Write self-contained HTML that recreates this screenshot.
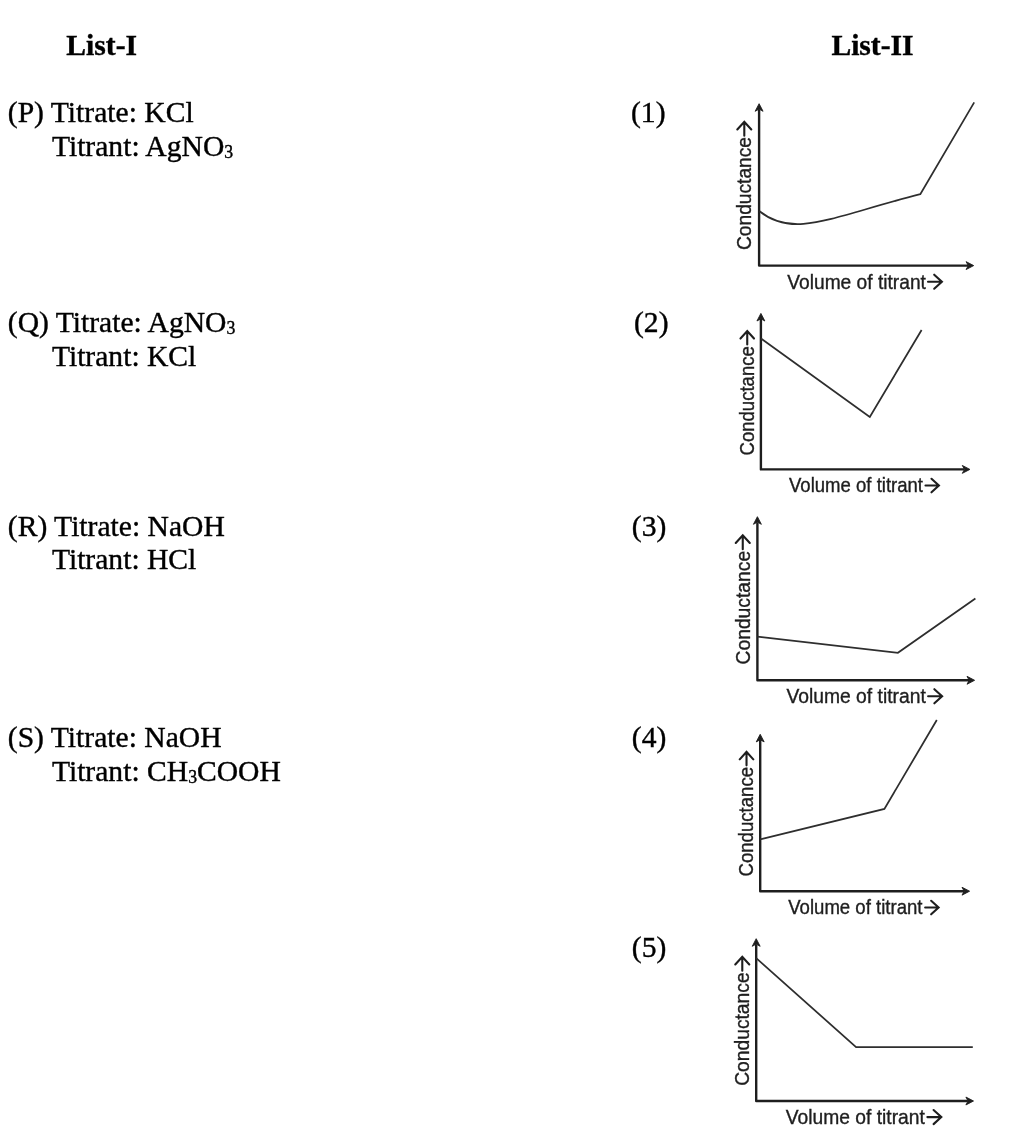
<!DOCTYPE html>
<html><head><meta charset="utf-8"><style>
html,body{margin:0;padding:0;background:#fff;}
.wrap{position:absolute;left:0;top:0;width:1012px;height:1140px;will-change:transform;}
body{width:1012px;height:1140px;position:relative;overflow:hidden;}
.t{position:absolute;white-space:nowrap;font-family:"Liberation Serif",serif;font-size:29.6px;line-height:normal;color:#000;-webkit-text-stroke:0.4px #000;}
.sub{font-size:0.6em;vertical-align:-0.13em;}
svg{position:absolute;left:0;top:0;will-change:transform;}
.g{font-family:"Liberation Sans",sans-serif;fill:#1e1e1e;stroke:#1e1e1e;stroke-width:0.35px;}
.ar{stroke:#1e1e1e;stroke-width:2.1;fill:none;stroke-linecap:round;stroke-linejoin:miter;}
</style></head><body>
<div class="wrap">
<div class="t" style="left:66.3px;top:28.63px;font-weight:bold;transform-origin:0 26.37px;transform:scaleY(1.02)">List-I</div>
<div class="t" style="left:831.4px;top:28.63px;font-weight:bold;transform-origin:0 26.37px;transform:scaleY(1.02)">List-II</div>
<div class="t" style="left:7.8px;top:95.63px;transform-origin:0 26.37px;transform:scaleY(1.02)">(P) Titrate: KCl</div>
<div class="t" style="left:51.9px;top:129.63px;transform-origin:0 26.37px;transform:scaleY(1.02)">Titrant: AgNO<span class="sub">3</span></div>
<div class="t" style="left:7.8px;top:305.63px;transform-origin:0 26.37px;transform:scaleY(1.02)">(Q) Titrate: AgNO<span class="sub">3</span></div>
<div class="t" style="left:51.9px;top:339.63px;transform-origin:0 26.37px;transform:scaleY(1.02)">Titrant: KCl</div>
<div class="t" style="left:7.8px;top:509.63px;transform-origin:0 26.37px;transform:scaleY(1.02)">(R) Titrate: NaOH</div>
<div class="t" style="left:51.9px;top:542.63px;transform-origin:0 26.37px;transform:scaleY(1.02)">Titrant: HCl</div>
<div class="t" style="left:7.8px;top:720.63px;transform-origin:0 26.37px;transform:scaleY(1.02)">(S) Titrate: NaOH</div>
<div class="t" style="left:51.9px;top:754.63px;transform-origin:0 26.37px;transform:scaleY(1.02)">Titrant: CH<span class="sub">3</span>COOH</div>
<div class="t" style="left:631.0px;top:95.63px;transform-origin:0 26.37px;transform:scaleY(1.02)">(1)</div>
<div class="t" style="left:634.0px;top:305.63px;transform-origin:0 26.37px;transform:scaleY(1.02)">(2)</div>
<div class="t" style="left:631.8px;top:509.63px;transform-origin:0 26.37px;transform:scaleY(1.02)">(3)</div>
<div class="t" style="left:631.8px;top:720.63px;transform-origin:0 26.37px;transform:scaleY(1.02)">(4)</div>
<div class="t" style="left:631.8px;top:930.63px;transform-origin:0 26.37px;transform:scaleY(1.02)">(5)</div>
</div>
<svg width="1012" height="1140" viewBox="0 0 1012 1140">
<path d="M759.1,109.3 L759.1,265.6 L968.1,265.6" stroke="#1e1e1e" stroke-width="2.4" fill="none" stroke-linejoin="round"/><path d="M973.70,265.60 L966.10,261.65 L968.30,265.60 L966.10,269.55 Z" fill="#1e1e1e" stroke="#1e1e1e" stroke-width="0.9" stroke-linejoin="round"/><path d="M759.10,103.70 L755.15,111.30 L759.10,109.10 L763.05,111.30 Z" fill="#1e1e1e" stroke="#1e1e1e" stroke-width="0.9" stroke-linejoin="round"/><path d="M759.5,211.2 C794.3,239.1 831.6,216.6 920.3,194.2 L974.2,102.4" stroke="#2e2e2e" stroke-width="1.75" fill="none" stroke-linejoin="miter"/><text transform="translate(751.3,250.0) rotate(-90) scale(1,1.06)" class="g" font-size="19.2">Conductance</text><path d="M744.30,135.70 L744.30,122.20 M737.30,129.50 L744.30,121.80 L751.30,129.50" class="ar"/><text transform="translate(787.3,288.7) scale(1,1.06)" class="g" font-size="19.2">Volume of titrant</text><path d="M928.00,281.70 L941.50,281.70 M934.20,274.70 L941.90,281.70 L934.20,288.70" class="ar"/><path d="M760.9,319 L760.9,469.4 L964.3,469.4" stroke="#1e1e1e" stroke-width="2.4" fill="none" stroke-linejoin="round"/><path d="M969.90,469.40 L962.30,465.45 L964.50,469.40 L962.30,473.35 Z" fill="#1e1e1e" stroke="#1e1e1e" stroke-width="0.9" stroke-linejoin="round"/><path d="M760.90,313.40 L756.95,321.00 L760.90,318.80 L764.85,321.00 Z" fill="#1e1e1e" stroke="#1e1e1e" stroke-width="0.9" stroke-linejoin="round"/><path d="M761,338.5 L869.8,416.9 L921.6,330" stroke="#2e2e2e" stroke-width="1.75" fill="none" stroke-linejoin="miter"/><text transform="translate(754.0,455.5) rotate(-90) scale(1,1.06)" class="g" font-size="18.55">Conductance</text><path d="M747.24,344.51 L747.24,331.50 M740.47,338.52 L747.24,331.10 L754.00,338.52" class="ar"/><text transform="translate(789.0,492.3) scale(1,1.06)" class="g" font-size="18.55">Volume of titrant</text><path d="M925.49,485.54 L938.50,485.54 M931.48,478.77 L938.90,485.54 L931.48,492.30" class="ar"/><path d="M757.4,522.3 L757.4,680.3 L969,680.3" stroke="#1e1e1e" stroke-width="2.4" fill="none" stroke-linejoin="round"/><path d="M974.60,680.30 L967.00,676.35 L969.20,680.30 L967.00,684.25 Z" fill="#1e1e1e" stroke="#1e1e1e" stroke-width="0.9" stroke-linejoin="round"/><path d="M757.40,516.70 L753.45,524.30 L757.40,522.10 L761.35,524.30 Z" fill="#1e1e1e" stroke="#1e1e1e" stroke-width="0.9" stroke-linejoin="round"/><path d="M757.4,636.6 L897.9,652.8 L975.4,598.5" stroke="#2e2e2e" stroke-width="1.75" fill="none" stroke-linejoin="miter"/><text transform="translate(749.8,664.5) rotate(-90) scale(1,1.06)" class="g" font-size="19.3">Conductance</text><path d="M742.76,549.18 L742.76,535.60 M735.73,542.94 L742.76,535.20 L749.80,542.94" class="ar"/><text transform="translate(786.4,703.3) scale(1,1.06)" class="g" font-size="19.3">Volume of titrant</text><path d="M928.12,696.26 L941.70,696.26 M934.36,689.23 L942.10,696.26 L934.36,703.30" class="ar"/><path d="M760.2,739.9 L760.2,891.2 L964,891.2" stroke="#1e1e1e" stroke-width="2.4" fill="none" stroke-linejoin="round"/><path d="M969.60,891.20 L962.00,887.25 L964.20,891.20 L962.00,895.15 Z" fill="#1e1e1e" stroke="#1e1e1e" stroke-width="0.9" stroke-linejoin="round"/><path d="M760.20,734.30 L756.25,741.90 L760.20,739.70 L764.15,741.90 Z" fill="#1e1e1e" stroke="#1e1e1e" stroke-width="0.9" stroke-linejoin="round"/><path d="M760.2,839.3 L884.4,808.9 L936.8,720" stroke="#2e2e2e" stroke-width="1.75" fill="none" stroke-linejoin="miter"/><text transform="translate(753.3,876.5) rotate(-90) scale(1,1.06)" class="g" font-size="18.6">Conductance</text><path d="M746.52,765.35 L746.52,752.30 M739.74,759.34 L746.52,751.90 L753.30,759.34" class="ar"/><text transform="translate(788.2,914.3) scale(1,1.06)" class="g" font-size="18.6">Volume of titrant</text><path d="M925.15,907.52 L938.20,907.52 M931.16,900.74 L938.60,907.52 L931.16,914.30" class="ar"/><path d="M756.2,944.3 L756.2,1101 L967.9,1101" stroke="#1e1e1e" stroke-width="2.4" fill="none" stroke-linejoin="round"/><path d="M973.50,1101.00 L965.90,1097.05 L968.10,1101.00 L965.90,1104.95 Z" fill="#1e1e1e" stroke="#1e1e1e" stroke-width="0.9" stroke-linejoin="round"/><path d="M756.20,938.70 L752.25,946.30 L756.20,944.10 L760.15,946.30 Z" fill="#1e1e1e" stroke="#1e1e1e" stroke-width="0.9" stroke-linejoin="round"/><path d="M756.2,958.2 L856.1,1047.1 L972.8,1047.1" stroke="#2e2e2e" stroke-width="1.75" fill="none" stroke-linejoin="miter"/><text transform="translate(749.3,1085.8) rotate(-90) scale(1,1.06)" class="g" font-size="19.25">Conductance</text><path d="M742.28,970.64 L742.28,957.10 M735.26,964.42 L742.28,956.70 L749.30,964.42" class="ar"/><text transform="translate(785.8,1124.1) scale(1,1.06)" class="g" font-size="19.25">Volume of titrant</text><path d="M927.36,1117.08 L940.90,1117.08 M933.58,1110.06 L941.30,1117.08 L933.58,1124.10" class="ar"/>
</svg>
</body></html>
